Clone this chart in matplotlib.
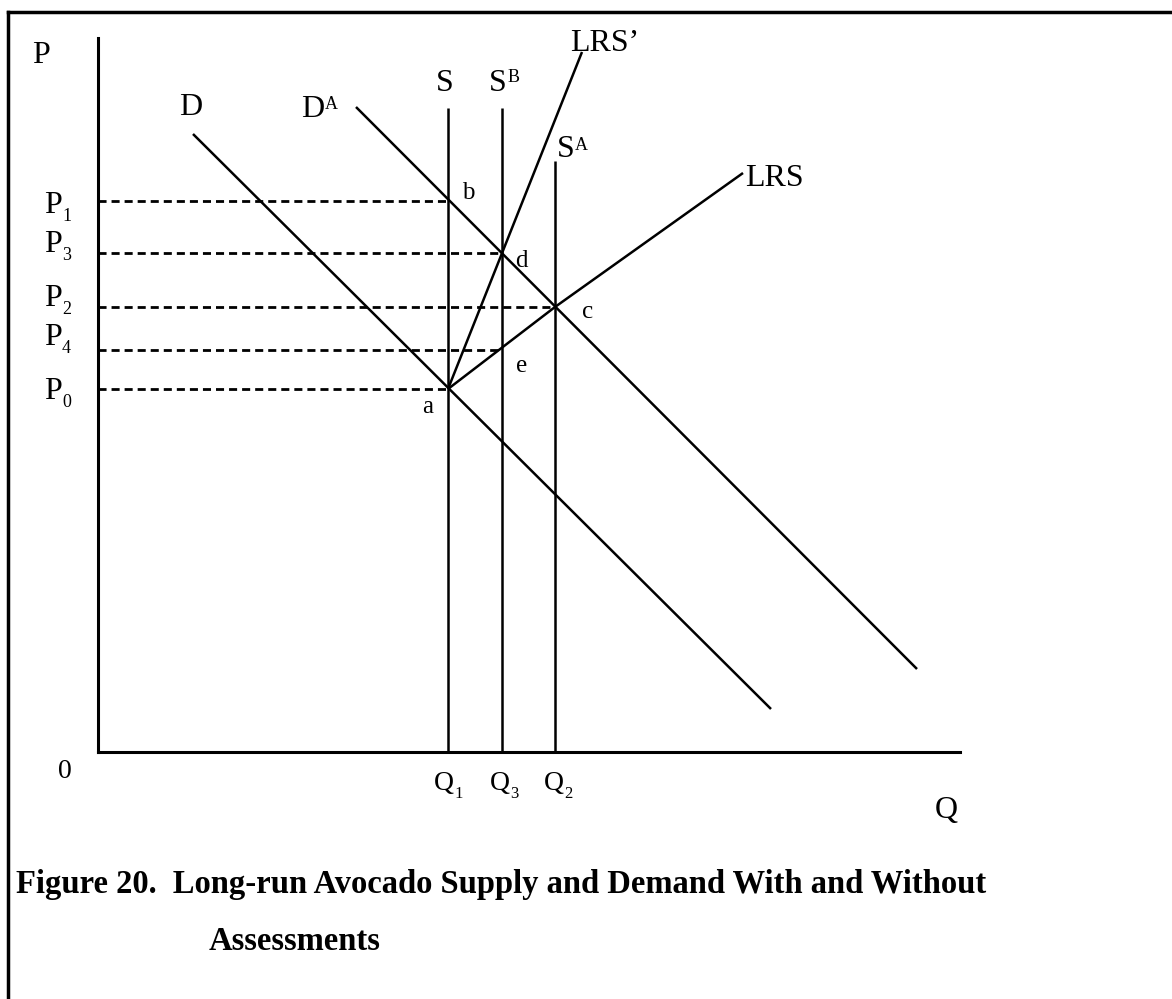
import matplotlib
matplotlib.use('Agg')
import matplotlib.pyplot as plt
from matplotlib.lines import Line2D

plt.rcParams['font.family'] = ['Liberation Serif', 'DejaVu Serif']

W, H = 1172, 999

# ---------------- data (economic units) ----------------
quantities = [35.0, 40.4, 45.7]          # Q1, Q3, Q2
q_names = ['1', '3', '2']
prices = [55.1, 49.9, 44.5, 40.2, 36.3]  # P1, P3, P2, P4, P0
p_names = ['1', '3', '2', '4', '0']
price_reach = [35.0, 40.4, 45.7, 40.4, 35.0]  # quantity where each price line stops

demand_q = [9.5, 67.3]
demand_p = [61.8, 4.3]
demand_a_q = [25.8, 81.9]
demand_a_p = [64.5, 8.3]
supply_tops = [64.4, 64.4, 59.1]         # S (Q1), S^B (Q3), S^A (Q2)
lrs_prime_q = [35.0, 48.4]
lrs_prime_p = [36.3, 70.0]
lrs_q = [35.0, 45.7, 64.5]
lrs_p = [36.3, 44.5, 57.9]
q_max, p_max = 86.2, 71.4

# ---------------- figure ----------------
fig = plt.figure(figsize=(W / 100, H / 100), dpi=100)
fig.patch.set_facecolor('white')

# outer frame (top and left edges)
fig.add_artist(Line2D([8 / W, 1.0], [1 - 12 / H, 1 - 12 / H], color='black', lw=2.5,
                      transform=fig.transFigure, solid_capstyle='projecting'))
fig.add_artist(Line2D([8 / W, 8 / W], [1 - 12 / H, 0.0], color='black', lw=2.5,
                      transform=fig.transFigure, solid_capstyle='projecting'))

ax = fig.add_axes([98 / W, (H - 752) / H, 862 / W, 714 / H])
ax.set_xlim(0, q_max)
ax.set_ylim(0, p_max)
for s in ('top', 'right'):
    ax.spines[s].set_visible(False)
for s in ('left', 'bottom'):
    ax.spines[s].set_linewidth(2.2)
ax.set_xticks([])
ax.set_yticks([])
ax.patch.set_alpha(0)

LW = 1.8
kw = dict(color='black', lw=LW, clip_on=False, solid_capstyle='butt')

# demand curves
ax.plot(demand_q, demand_p, **kw)
ax.plot(demand_a_q, demand_a_p, **kw)
# short-run supply (vertical)
for q, top in zip(quantities, supply_tops):
    ax.plot([q, q], [0, top], **kw)
# long-run supplies
ax.plot(lrs_prime_q, lrs_prime_p, **kw)
ax.plot(lrs_q, lrs_p, **kw)
# dashed price lines
for p, qr in zip(prices, price_reach):
    ax.plot([0, qr], [p, p], color='black', lw=2.0, ls=(0, (2.9, 1.8)), clip_on=False,
            dash_capstyle='butt')


# ---------------- labels ----------------
def px(x, y):
    return (x - 98) / 10, (752 - y) / 10


def lab(x, y, s, size=23, sub=None, sub_y=None, subsize=13, sup=None, sup_y=None, supsize=13):
    t = ax.text(*px(x, y), s, fontsize=size, ha='left', va='baseline', clip_on=False)
    if sub is not None:
        ax.annotate(sub, xy=(1, px(0, sub_y)[1]), xycoords=(t, 'data'),
                    xytext=(0.2, 0), textcoords='offset points',
                    fontsize=subsize, ha='left', va='baseline')
    if sup is not None:
        ax.annotate(sup, xy=(1, px(0, sup_y)[1]), xycoords=(t, 'data'),
                    xytext=(0.2, 0), textcoords='offset points',
                    fontsize=supsize, ha='left', va='baseline')
    return t


lab(32, 63, 'P')
lab(935, 818, 'Q')
lab(58, 778, '0', size=20)

# price labels
p_base = [213, 252, 306, 345, 399]
for name, yb in zip(p_names, p_base):
    lab(44, yb, 'P', sub=name, sub_y=yb + 8)

# quantity labels
q_left = [434, 490, 544]
for name, xl in zip(q_names, q_left):
    lab(xl, 790, 'Q', size=20, sub=name, sub_y=798, subsize=12)

# curve labels
lab(179, 115, 'D')
lab(301, 117, 'D', sup='A', sup_y=109)
lab(436, 91, 'S')
lab(489, 91, 'S', sup='B', sup_y=82)
lab(557, 157, 'S', sup='A', sup_y=150)
lab(570, 51, 'LRS\u2019')
lab(745, 186, 'LRS')

# point labels
for s, (x, y) in zip(['b', 'd', 'c', 'e', 'a'],
                     [(462, 199), (515, 267), (582, 318), (516, 372), (422, 413)]):
    lab(x, y, s, size=18)

# caption
fig.text(16 / W, 1 - 893 / H,
         'Figure 20.  Long-run Avocado Supply and Demand With and Without',
         fontsize=23.5, fontweight='bold', ha='left', va='baseline')
fig.text(209 / W, 1 - 950 / H, 'Assessments',
         fontsize=23.5, fontweight='bold', ha='left', va='baseline')

fig.savefig('out.png', dpi=100, facecolor='white')
